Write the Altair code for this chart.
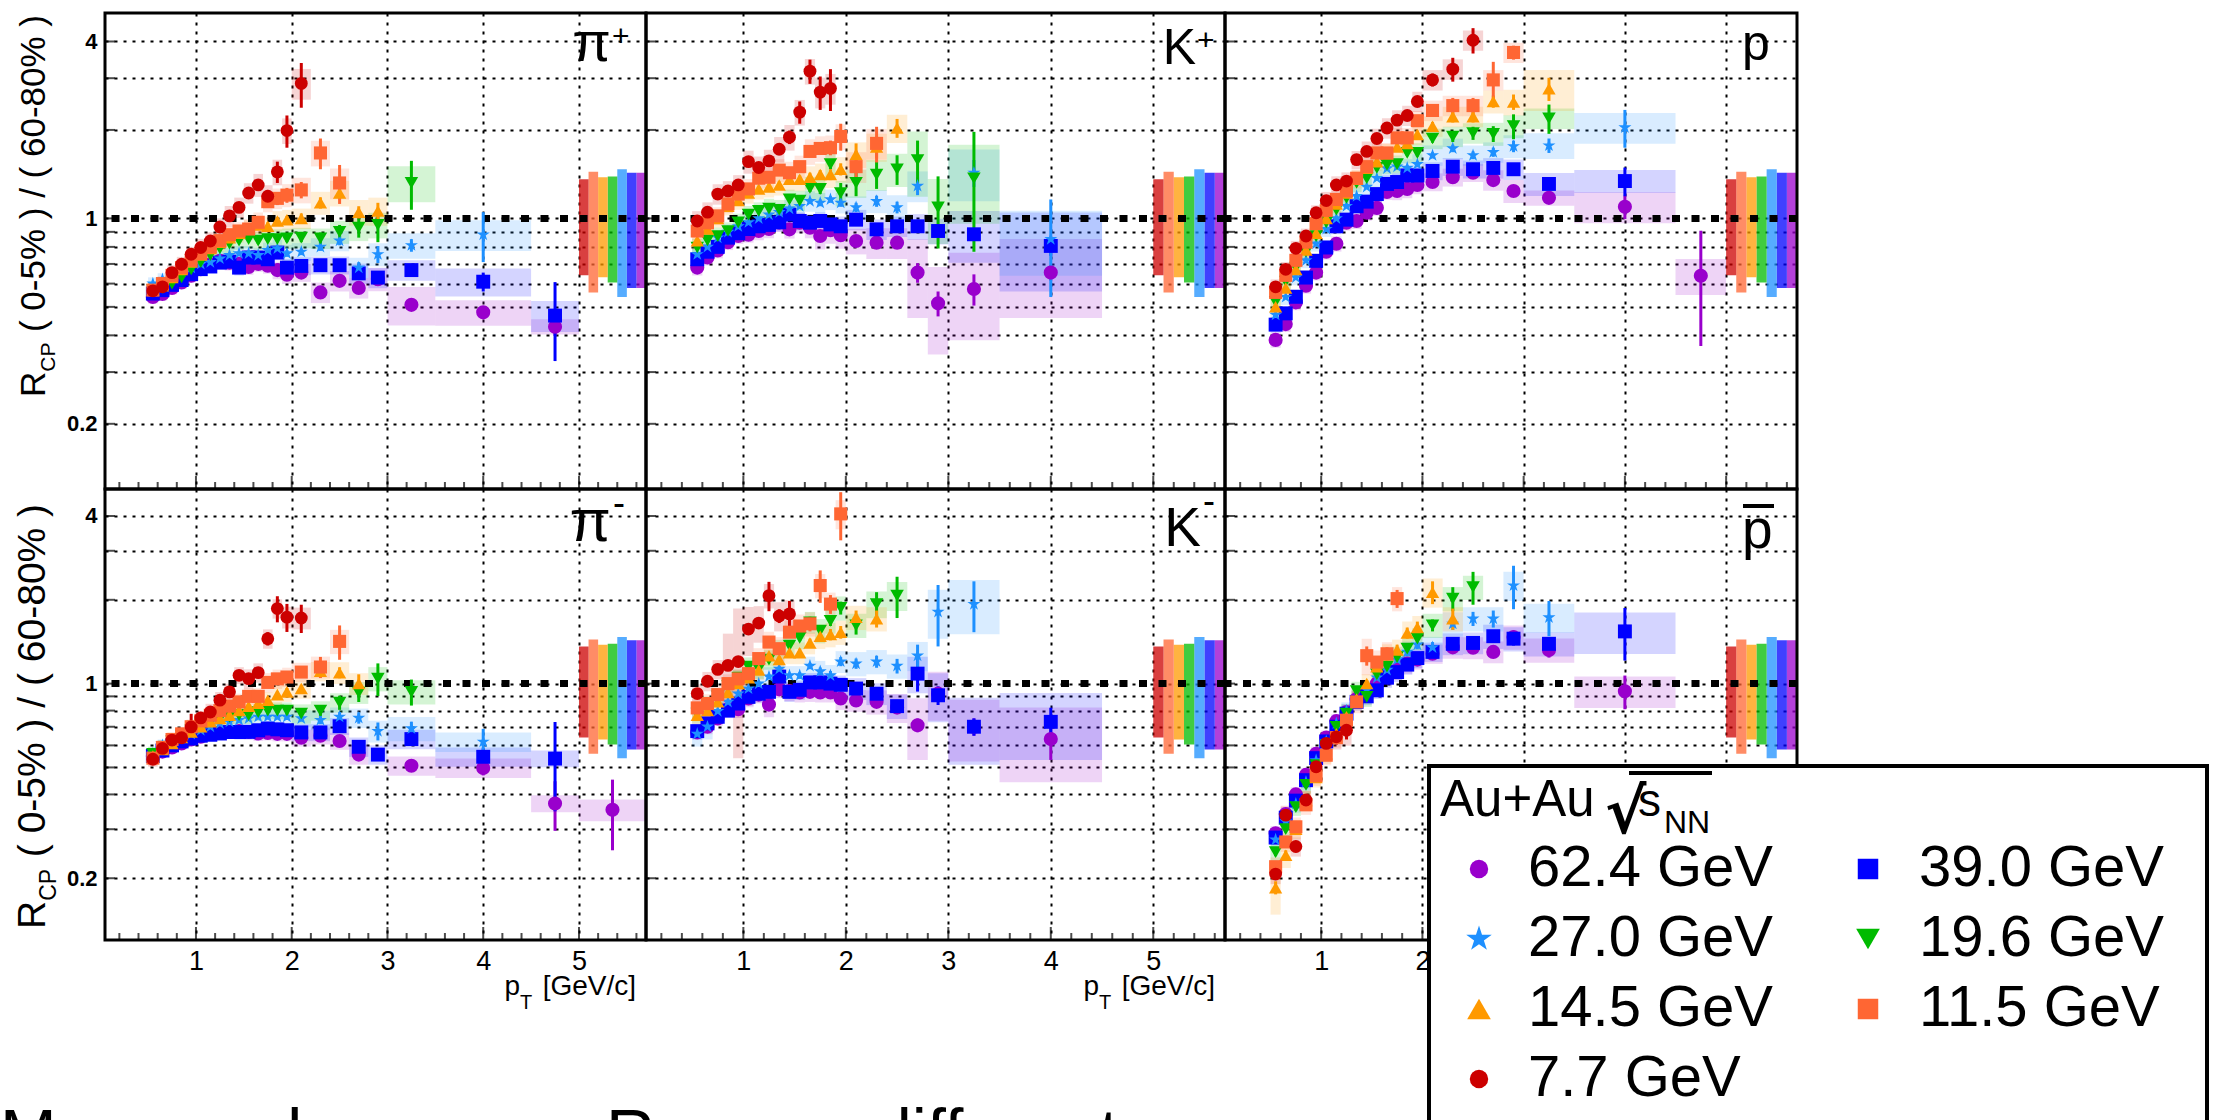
import altair as alt
import pandas as pd

FONT = "Liberation Sans"

ENERGIES = ["62.4 GeV", "39.0 GeV", "27.0 GeV", "19.6 GeV", "14.5 GeV", "11.5 GeV", "7.7 GeV"]
COLORS = ["#9900cc", "#0000ff", "#1e90ff", "#00bb00", "#ff9900", "#ff6633", "#cc0000"]
STAR = ("M0,-1L0.2245,-0.309L0.9511,-0.309L0.3633,0.118L0.5878,0.809L0,0.382"
        "L-0.5878,0.809L-0.3633,0.118L-0.9511,-0.309L-0.2245,-0.309Z")
SHAPES = ["circle", "square", STAR, "triangle-down", "triangle-up", "square", "circle"]
SIZES = [200, 165, 380, 260, 260, 165, 200]
LEG_SIZES = [340, 420, 720, 560, 560, 420, 340]

# normalisation (Ncoll) uncertainty bars, one per energy
NORM_X = [5.6, 5.5, 5.4, 5.3, 5.2, 5.1, 5.0]
NORM_LO = [0.58, 0.58, 0.54, 0.605, 0.63, 0.56, 0.64]
NORM_HI = [1.43, 1.43, 1.47, 1.39, 1.38, 1.44, 1.36]

Y_GRID = [0.2, 0.3, 0.4, 0.5, 0.6, 0.7, 0.8, 0.9, 1, 2, 3, 4]
X_GRID = [1, 2, 3, 4, 5]
X_MINOR = [0.2, 0.4, 0.6, 0.8, 1.2, 1.4, 1.6, 1.8, 2.2, 2.4, 2.6, 2.8, 3.2, 3.4, 3.6, 3.8,
           4.2, 4.4, 4.6, 4.8, 5.2, 5.4, 5.6]

# (pT, R_CP, stat error, relative syst error)
PIP_624 = [(0.55,0.54,0.005,0.05),(0.65,0.553,0.005,0.05),(0.75,0.58,0.005,0.05),(0.85,0.605,0.005,0.05),(0.95,0.638,0.006,0.05),(1.05,0.672,0.006,0.05),(1.15,0.698,0.006,0.05),(1.25,0.717,0.007,0.05),(1.35,0.707,0.008,0.06),(1.45,0.70,0.008,0.06),(1.55,0.684,0.01,0.06),(1.65,0.70,0.01,0.06),(1.75,0.69,0.01,0.06),(1.85,0.667,0.012,0.07),(1.95,0.643,0.012,0.07),(2.1,0.654,0.015,0.07),(2.3,0.56,0.015,0.08),(2.5,0.613,0.02,0.08),(2.7,0.58,0.02,0.08),(2.9,0.621,0.025,0.09),(3.25,0.508,0.02,0.15),(4.0,0.479,0.02,0.1),(4.75,0.428,0.03,0.06)]
PIP_390 = [(0.55,0.555,0.005,0.05),(0.65,0.57,0.005,0.05),(0.75,0.594,0.005,0.05),(0.85,0.617,0.006,0.05),(0.95,0.646,0.006,0.05),(1.05,0.672,0.006,0.05),(1.15,0.686,0.007,0.05),(1.25,0.707,0.008,0.05),(1.35,0.713,0.008,0.06),(1.45,0.68,0.01,0.06),(1.55,0.736,0.01,0.06),(1.65,0.736,0.01,0.06),(1.75,0.726,0.012,0.06),(1.85,0.765,0.012,0.06),(1.95,0.68,0.015,0.07),(2.1,0.689,0.015,0.07),(2.3,0.693,0.018,0.07),(2.5,0.693,0.02,0.07),(2.7,0.65,0.02,0.08),(2.9,0.629,0.025,0.08),(3.25,0.667,0.02,0.08),(4.0,0.609,0.045,0.11),(4.75,0.467,0.14,0.12)]
PIP_270 = [(0.55,0.60,0.006,0.05),(0.65,0.62,0.006,0.05),(0.75,0.64,0.006,0.05),(0.85,0.66,0.007,0.05),(0.95,0.68,0.007,0.05),(1.05,0.70,0.008,0.05),(1.15,0.71,0.008,0.06),(1.25,0.73,0.01,0.06),(1.35,0.75,0.01,0.06),(1.45,0.76,0.01,0.06),(1.55,0.76,0.012,0.06),(1.65,0.75,0.012,0.06),(1.75,0.78,0.015,0.06),(1.85,0.79,0.015,0.07),(1.95,0.76,0.02,0.07),(2.1,0.77,0.02,0.07),(2.3,0.80,0.025,0.07),(2.5,0.84,0.03,0.08),(2.7,0.68,0.03,0.08),(2.9,0.755,0.05,0.09),(3.25,0.81,0.04,0.1),(4.0,0.88,0.17,0.12)]
PIP_196 = [(0.55,0.57,0.006,0.06),(0.65,0.58,0.006,0.06),(0.75,0.60,0.007,0.06),(0.85,0.63,0.008,0.06),(0.95,0.67,0.008,0.06),(1.05,0.71,0.01,0.06),(1.15,0.75,0.01,0.06),(1.25,0.79,0.01,0.06),(1.35,0.82,0.012,0.07),(1.45,0.84,0.015,0.07),(1.55,0.85,0.015,0.07),(1.65,0.84,0.02,0.07),(1.75,0.85,0.02,0.07),(1.85,0.85,0.02,0.08),(1.95,0.855,0.025,0.08),(2.1,0.86,0.03,0.08),(2.3,0.855,0.04,0.08),(2.5,0.90,0.05,0.09),(2.7,0.93,0.07,0.1),(2.9,0.95,0.12,0.1),(3.25,1.32,0.25,0.14)]
PIP_145 = [(0.55,0.57,0.008,0.06),(0.65,0.59,0.008,0.06),(0.75,0.63,0.008,0.06),(0.85,0.67,0.01,0.06),(0.95,0.71,0.01,0.06),(1.05,0.75,0.01,0.06),(1.15,0.79,0.01,0.06),(1.25,0.83,0.012,0.07),(1.35,0.86,0.015,0.07),(1.45,0.89,0.015,0.07),(1.55,0.92,0.02,0.07),(1.65,0.95,0.02,0.07),(1.75,0.94,0.03,0.08),(1.85,0.98,0.03,0.08),(1.95,0.99,0.03,0.08),(2.1,1.00,0.04,0.08),(2.3,1.13,0.05,0.09),(2.5,1.22,0.06,0.1),(2.7,1.05,0.05,0.1),(2.9,1.06,0.07,0.11)]
PIP_115 = [(0.55,0.57,0.008,0.06),(0.65,0.60,0.008,0.06),(0.75,0.64,0.008,0.06),(0.85,0.68,0.01,0.06),(0.95,0.72,0.01,0.06),(1.05,0.76,0.01,0.06),(1.15,0.80,0.012,0.07),(1.25,0.84,0.015,0.07),(1.35,0.88,0.015,0.07),(1.45,0.906,0.02,0.07),(1.55,0.92,0.03,0.08),(1.65,0.97,0.03,0.08),(1.75,1.14,0.05,0.08),(1.85,1.17,0.06,0.08),(1.95,1.20,0.07,0.09),(2.1,1.25,0.08,0.1),(2.3,1.67,0.2,0.1),(2.5,1.32,0.2,0.12)]
PIP_77 = [(0.55,0.567,0.01,0.06),(0.65,0.585,0.01,0.06),(0.75,0.654,0.01,0.06),(0.85,0.698,0.01,0.06),(0.95,0.755,0.012,0.06),(1.05,0.796,0.012,0.07),(1.15,0.838,0.015,0.07),(1.25,0.935,0.02,0.07),(1.35,1.02,0.02,0.08),(1.45,1.09,0.03,0.08),(1.55,1.22,0.04,0.08),(1.65,1.30,0.05,0.09),(1.75,1.19,0.06,0.09),(1.85,1.44,0.12,0.1),(1.95,1.99,0.25,0.1),(2.1,2.88,0.5,0.12)]

KP_624 = [(0.55,0.68,0.01,0.06),(0.65,0.736,0.01,0.06),(0.75,0.778,0.01,0.06),(0.85,0.83,0.01,0.06),(0.95,0.871,0.01,0.06),(1.05,0.88,0.012,0.06),(1.15,0.906,0.012,0.07),(1.25,0.92,0.012,0.07),(1.35,0.967,0.015,0.07),(1.45,0.918,0.015,0.07),(1.55,0.967,0.015,0.08),(1.65,0.93,0.02,0.08),(1.75,0.871,0.02,0.1),(1.85,0.911,0.02,0.1),(1.95,0.876,0.025,0.1),(2.1,0.838,0.025,0.1),(2.3,0.827,0.03,0.12),(2.5,0.827,0.03,0.12),(2.7,0.654,0.05,0.3),(2.9,0.514,0.05,0.33),(3.25,0.575,0.07,0.33),(4.0,0.654,0.04,0.3)]
KP_390 = [(0.55,0.726,0.01,0.06),(0.65,0.77,0.01,0.06),(0.75,0.80,0.01,0.06),(0.85,0.86,0.01,0.06),(0.95,0.89,0.01,0.06),(1.05,0.92,0.012,0.06),(1.15,0.94,0.012,0.06),(1.25,0.95,0.015,0.06),(1.35,0.97,0.015,0.07),(1.45,1.03,0.015,0.07),(1.55,0.98,0.02,0.07),(1.65,0.967,0.02,0.07),(1.75,0.98,0.02,0.07),(1.85,0.954,0.02,0.07),(1.95,0.94,0.025,0.08),(2.1,0.99,0.025,0.08),(2.3,0.918,0.03,0.08),(2.5,0.94,0.03,0.08),(2.7,0.94,0.035,0.1),(2.9,0.906,0.04,0.1),(3.25,0.883,0.04,0.2),(4.0,0.806,0.06,0.3)]
KP_270 = [(0.55,0.755,0.01,0.06),(0.65,0.80,0.01,0.06),(0.75,0.86,0.01,0.06),(0.85,0.90,0.01,0.06),(0.95,0.94,0.012,0.06),(1.05,0.97,0.012,0.06),(1.15,1.00,0.015,0.07),(1.25,1.03,0.015,0.07),(1.35,1.05,0.02,0.07),(1.45,1.08,0.02,0.07),(1.55,1.10,0.02,0.07),(1.65,1.145,0.025,0.08),(1.75,1.13,0.03,0.08),(1.85,1.16,0.03,0.08),(1.95,1.13,0.035,0.08),(2.1,1.09,0.04,0.09),(2.3,1.145,0.05,0.09),(2.5,1.09,0.05,0.1),(2.7,1.29,0.09,0.12),(3.25,1.43,0.15,0.2),(4.0,0.85,0.31,0.25)]
KP_196 = [(0.55,0.796,0.01,0.07),(0.65,0.842,0.01,0.07),(0.75,0.87,0.012,0.07),(0.85,0.906,0.012,0.07),(0.95,0.97,0.015,0.07),(1.05,1.03,0.015,0.07),(1.15,1.06,0.02,0.07),(1.25,1.08,0.02,0.08),(1.35,1.07,0.025,0.08),(1.45,1.16,0.03,0.08),(1.55,1.15,0.03,0.08),(1.65,1.27,0.04,0.09),(1.75,1.26,0.05,0.09),(1.85,1.53,0.06,0.1),(1.95,1.22,0.1,0.1),(2.1,1.32,0.13,0.11),(2.3,1.41,0.15,0.12),(2.5,1.47,0.17,0.13),(2.7,1.58,0.26,0.25),(2.9,1.09,0.3,0.25),(3.25,1.37,0.6,0.3)]
KP_145 = [(0.55,0.84,0.015,0.07),(0.65,0.92,0.015,0.07),(0.75,1.00,0.02,0.07),(0.85,1.10,0.02,0.07),(0.95,1.15,0.02,0.07),(1.05,1.22,0.025,0.08),(1.15,1.26,0.03,0.08),(1.25,1.28,0.03,0.08),(1.35,1.30,0.035,0.08),(1.45,1.36,0.04,0.09),(1.55,1.36,0.04,0.09),(1.65,1.38,0.05,0.09),(1.75,1.41,0.05,0.09),(1.85,1.41,0.06,0.1),(1.95,1.47,0.07,0.1),(2.1,1.65,0.15,0.1),(2.3,1.75,0.15,0.11),(2.5,2.03,0.15,0.11)]
KP_115 = [(0.55,0.906,0.015,0.07),(0.65,0.966,0.015,0.07),(0.75,1.02,0.02,0.07),(0.85,1.12,0.02,0.07),(0.95,1.21,0.025,0.08),(1.05,1.26,0.03,0.08),(1.15,1.37,0.03,0.08),(1.25,1.38,0.04,0.08),(1.35,1.46,0.04,0.09),(1.45,1.43,0.05,0.09),(1.55,1.50,0.06,0.09),(1.65,1.69,0.07,0.1),(1.75,1.73,0.08,0.1),(1.85,1.74,0.1,0.1),(1.95,1.90,0.2,0.1),(2.1,1.50,0.2,0.12),(2.3,1.80,0.25,0.12)]
KP_77 = [(0.55,0.98,0.02,0.08),(0.65,1.05,0.02,0.08),(0.75,1.21,0.03,0.08),(0.85,1.24,0.03,0.08),(0.95,1.30,0.04,0.08),(1.05,1.56,0.05,0.09),(1.15,1.49,0.05,0.09),(1.25,1.57,0.06,0.09),(1.35,1.72,0.08,0.1),(1.45,1.89,0.1,0.1),(1.55,2.30,0.2,0.1),(1.65,3.17,0.3,0.1),(1.75,2.69,0.35,0.12),(1.85,2.77,0.45,0.12)]

PR_624 = [(0.55,0.386,0.008,0.06),(0.65,0.437,0.008,0.06),(0.75,0.518,0.008,0.06),(0.85,0.59,0.01,0.06),(0.95,0.654,0.01,0.06),(1.05,0.77,0.01,0.06),(1.15,0.82,0.01,0.06),(1.25,0.967,0.012,0.06),(1.35,0.98,0.012,0.06),(1.45,1.045,0.015,0.06),(1.55,1.086,0.015,0.06),(1.65,1.23,0.02,0.06),(1.75,1.24,0.02,0.07),(1.85,1.26,0.02,0.07),(1.95,1.30,0.025,0.07),(2.1,1.33,0.025,0.07),(2.3,1.38,0.03,0.07),(2.5,1.43,0.035,0.07),(2.7,1.35,0.04,0.08),(2.9,1.24,0.045,0.09),(3.25,1.175,0.05,0.06),(4.0,1.095,0.1,0.12),(4.75,0.638,0.27,0.14)]
PR_390 = [(0.55,0.435,0.008,0.06),(0.65,0.475,0.008,0.06),(0.75,0.541,0.008,0.06),(0.85,0.629,0.01,0.06),(0.95,0.717,0.01,0.06),(1.05,0.796,0.01,0.06),(1.15,0.94,0.012,0.06),(1.25,0.99,0.012,0.06),(1.35,1.10,0.015,0.06),(1.45,1.14,0.015,0.06),(1.55,1.21,0.02,0.06),(1.65,1.31,0.02,0.07),(1.75,1.33,0.02,0.07),(1.85,1.40,0.025,0.07),(1.95,1.40,0.025,0.07),(2.1,1.45,0.03,0.07),(2.3,1.50,0.035,0.07),(2.5,1.47,0.04,0.07),(2.7,1.485,0.045,0.08),(2.9,1.47,0.05,0.08),(3.25,1.31,0.05,0.09),(4.0,1.34,0.15,0.09)]
PR_270 = [(0.55,0.47,0.008,0.06),(0.65,0.54,0.008,0.06),(0.75,0.63,0.01,0.06),(0.85,0.72,0.01,0.06),(0.95,0.82,0.01,0.06),(1.05,0.92,0.012,0.06),(1.15,1.00,0.012,0.06),(1.25,1.10,0.015,0.06),(1.35,1.19,0.02,0.07),(1.45,1.28,0.02,0.07),(1.55,1.37,0.025,0.07),(1.65,1.48,0.03,0.07),(1.75,1.50,0.03,0.07),(1.85,1.485,0.03,0.07),(1.95,1.53,0.035,0.08),(2.1,1.64,0.04,0.08),(2.3,1.73,0.05,0.08),(2.5,1.64,0.05,0.08),(2.7,1.68,0.06,0.08),(2.9,1.76,0.08,0.09),(3.25,1.77,0.1,0.1),(4.0,2.04,0.3,0.12)]
PR_196 = [(0.55,0.52,0.008,0.06),(0.65,0.61,0.008,0.06),(0.75,0.68,0.01,0.06),(0.85,0.77,0.01,0.06),(0.95,0.87,0.012,0.06),(1.05,0.97,0.012,0.06),(1.15,1.07,0.015,0.06),(1.25,1.175,0.02,0.07),(1.35,1.32,0.02,0.07),(1.45,1.37,0.025,0.07),(1.55,1.485,0.03,0.07),(1.65,1.52,0.03,0.07),(1.75,1.53,0.035,0.07),(1.85,1.67,0.04,0.08),(1.95,1.67,0.045,0.08),(2.1,1.87,0.06,0.08),(2.3,1.90,0.08,0.08),(2.5,1.95,0.1,0.08),(2.7,1.94,0.12,0.09),(2.9,2.06,0.2,0.09),(3.25,2.19,0.25,0.08)]
PR_145 = [(0.55,0.50,0.01,0.06),(0.65,0.58,0.01,0.06),(0.75,0.67,0.012,0.06),(0.85,0.78,0.015,0.06),(0.95,0.89,0.015,0.06),(1.05,1.00,0.02,0.06),(1.15,1.12,0.02,0.07),(1.25,1.22,0.025,0.07),(1.35,1.36,0.03,0.07),(1.45,1.48,0.03,0.07),(1.55,1.56,0.035,0.07),(1.65,1.66,0.04,0.08),(1.75,1.75,0.05,0.08),(1.85,1.80,0.05,0.08),(1.95,1.93,0.06,0.08),(2.1,2.06,0.07,0.08),(2.3,2.22,0.1,0.08),(2.5,2.22,0.1,0.08),(2.7,2.50,0.12,0.09),(2.9,2.49,0.15,0.1),(3.25,2.76,0.25,0.16)]
PR_115 = [(0.55,0.56,0.01,0.06),(0.65,0.64,0.01,0.06),(0.75,0.72,0.015,0.06),(0.85,0.83,0.015,0.06),(0.95,0.96,0.02,0.06),(1.05,1.065,0.02,0.06),(1.15,1.16,0.025,0.07),(1.25,1.24,0.03,0.07),(1.35,1.37,0.03,0.07),(1.45,1.50,0.035,0.07),(1.55,1.67,0.04,0.08),(1.65,1.67,0.05,0.08),(1.75,1.88,0.06,0.08),(1.85,1.88,0.07,0.08),(1.95,2.15,0.08,0.08),(2.1,2.33,0.1,0.08),(2.3,2.42,0.15,0.08),(2.5,2.42,0.15,0.08),(2.7,2.96,0.45,0.08),(2.9,3.67,0.2,0.08)]
PR_77 = [(0.55,0.585,0.015,0.06),(0.65,0.671,0.015,0.06),(0.75,0.791,0.02,0.06),(0.85,0.871,0.02,0.06),(0.95,1.045,0.025,0.06),(1.05,1.15,0.03,0.07),(1.15,1.30,0.03,0.07),(1.25,1.34,0.04,0.07),(1.35,1.585,0.04,0.07),(1.45,1.69,0.05,0.08),(1.55,1.87,0.06,0.08),(1.65,2.03,0.06,0.08),(1.75,2.16,0.07,0.08),(1.85,2.24,0.08,0.08),(1.95,2.50,0.1,0.08),(2.1,2.96,0.15,0.08),(2.3,3.22,0.3,0.08),(2.5,4.04,0.4,0.08)]

PIM_624 = [(0.55,0.55,0.005,0.05),(0.65,0.57,0.005,0.05),(0.75,0.59,0.005,0.05),(0.85,0.61,0.005,0.05),(0.95,0.63,0.006,0.05),(1.05,0.645,0.006,0.05),(1.15,0.66,0.006,0.05),(1.25,0.665,0.007,0.05),(1.35,0.671,0.007,0.05),(1.45,0.675,0.008,0.06),(1.55,0.67,0.008,0.06),(1.65,0.662,0.01,0.06),(1.75,0.665,0.01,0.06),(1.85,0.66,0.01,0.06),(1.95,0.66,0.012,0.06),(2.1,0.639,0.012,0.07),(2.3,0.65,0.015,0.07),(2.5,0.622,0.015,0.07),(2.7,0.556,0.02,0.08),(3.25,0.507,0.02,0.08),(4.0,0.498,0.03,0.08),(4.75,0.371,0.075,0.07),(5.35,0.352,0.1,0.09)]
PIM_390 = [(0.55,0.55,0.005,0.05),(0.65,0.575,0.005,0.05),(0.75,0.60,0.005,0.05),(0.85,0.62,0.006,0.05),(0.95,0.635,0.006,0.05),(1.05,0.65,0.006,0.05),(1.15,0.655,0.007,0.05),(1.25,0.662,0.007,0.05),(1.35,0.67,0.008,0.05),(1.45,0.67,0.008,0.06),(1.55,0.671,0.01,0.06),(1.65,0.68,0.01,0.06),(1.75,0.69,0.01,0.06),(1.85,0.685,0.012,0.06),(1.95,0.68,0.012,0.06),(2.1,0.668,0.015,0.07),(2.3,0.668,0.015,0.07),(2.5,0.703,0.02,0.07),(2.7,0.593,0.02,0.08),(2.9,0.556,0.025,0.08),(3.25,0.632,0.02,0.08),(4.0,0.546,0.04,0.08),(4.75,0.538,0.19,0.07)]
PIM_270 = [(0.55,0.56,0.006,0.05),(0.65,0.60,0.006,0.05),(0.75,0.62,0.006,0.05),(0.85,0.64,0.007,0.05),(0.95,0.66,0.007,0.05),(1.05,0.68,0.008,0.06),(1.15,0.70,0.008,0.06),(1.25,0.72,0.01,0.06),(1.35,0.73,0.01,0.06),(1.45,0.74,0.01,0.06),(1.55,0.75,0.012,0.06),(1.65,0.76,0.012,0.06),(1.75,0.76,0.015,0.07),(1.85,0.76,0.015,0.07),(1.95,0.76,0.02,0.07),(2.1,0.75,0.02,0.07),(2.3,0.74,0.025,0.08),(2.5,0.76,0.03,0.08),(2.7,0.753,0.035,0.08),(2.9,0.675,0.05,0.09),(3.25,0.69,0.04,0.1),(4.0,0.618,0.07,0.08)]
PIM_196 = [(0.55,0.56,0.006,0.06),(0.65,0.59,0.006,0.06),(0.75,0.62,0.007,0.06),(0.85,0.65,0.008,0.06),(0.95,0.68,0.008,0.06),(1.05,0.71,0.01,0.06),(1.15,0.73,0.01,0.06),(1.25,0.75,0.01,0.06),(1.35,0.76,0.012,0.06),(1.45,0.77,0.012,0.07),(1.55,0.77,0.015,0.07),(1.65,0.79,0.015,0.07),(1.75,0.80,0.02,0.07),(1.85,0.80,0.02,0.07),(1.95,0.80,0.025,0.07),(2.1,0.78,0.03,0.08),(2.3,0.80,0.035,0.08),(2.5,0.855,0.05,0.08),(2.7,0.929,0.07,0.09),(2.9,1.042,0.14,0.1),(3.25,0.934,0.1,0.1)]
PIM_145 = [(0.55,0.55,0.007,0.06),(0.65,0.58,0.007,0.06),(0.75,0.61,0.008,0.06),(0.85,0.64,0.008,0.06),(0.95,0.67,0.01,0.06),(1.05,0.70,0.01,0.06),(1.15,0.73,0.01,0.06),(1.25,0.75,0.012,0.07),(1.35,0.77,0.012,0.07),(1.45,0.80,0.015,0.07),(1.55,0.83,0.015,0.07),(1.65,0.85,0.02,0.07),(1.75,0.871,0.02,0.07),(1.85,0.913,0.025,0.08),(1.95,0.934,0.03,0.08),(2.1,0.96,0.03,0.08),(2.3,1.107,0.04,0.08),(2.5,1.095,0.05,0.09),(2.7,1.0,0.08,0.09)]
PIM_115 = [(0.55,0.54,0.008,0.06),(0.65,0.59,0.008,0.06),(0.75,0.63,0.008,0.06),(0.85,0.66,0.01,0.06),(0.95,0.70,0.01,0.06),(1.05,0.735,0.01,0.06),(1.15,0.77,0.012,0.06),(1.25,0.80,0.012,0.07),(1.35,0.83,0.015,0.07),(1.45,0.86,0.015,0.07),(1.55,0.90,0.02,0.07),(1.65,0.90,0.02,0.07),(1.75,1.01,0.03,0.08),(1.85,1.04,0.03,0.08),(1.95,1.056,0.04,0.08),(2.1,1.10,0.05,0.08),(2.3,1.147,0.1,0.09),(2.5,1.418,0.2,0.1)]
PIM_77 = [(0.55,0.535,0.01,0.06),(0.65,0.585,0.01,0.06),(0.75,0.627,0.01,0.06),(0.85,0.639,0.01,0.06),(0.95,0.699,0.08,0.06),(1.05,0.753,0.015,0.06),(1.15,0.791,0.015,0.07),(1.25,0.872,0.02,0.07),(1.35,0.934,0.02,0.07),(1.45,1.071,0.025,0.07),(1.55,1.042,0.03,0.08),(1.65,1.095,0.04,0.08),(1.75,1.45,0.08,0.08),(1.85,1.86,0.2,0.08),(1.95,1.733,0.2,0.09),(2.1,1.72,0.2,0.09)]

KM_624 = [(0.55,0.668,0.01,0.06),(0.65,0.70,0.01,0.06),(0.75,0.75,0.01,0.06),(0.85,0.809,0.012,0.06),(0.95,0.809,0.012,0.07),(1.05,0.884,0.015,0.07),(1.15,0.913,0.015,0.07),(1.25,0.841,0.015,0.1),(1.35,0.954,0.02,0.07),(1.45,0.94,0.02,0.08),(1.55,0.93,0.02,0.08),(1.65,0.934,0.025,0.08),(1.75,0.93,0.025,0.08),(1.85,0.93,0.025,0.08),(1.95,0.884,0.03,0.09),(2.1,0.87,0.03,0.09),(2.3,0.86,0.035,0.1),(2.5,0.82,0.04,0.12),(2.7,0.709,0.04,0.25),(2.9,0.92,0.05,0.2),(3.25,0.70,0.05,0.25),(4.0,0.632,0.1,0.3)]
KM_390 = [(0.55,0.675,0.01,0.06),(0.65,0.72,0.01,0.06),(0.75,0.76,0.01,0.06),(0.85,0.80,0.012,0.06),(0.95,0.848,0.012,0.07),(1.05,0.896,0.015,0.07),(1.15,0.92,0.015,0.07),(1.25,0.934,0.015,0.07),(1.35,1.06,0.02,0.07),(1.45,0.934,0.02,0.08),(1.55,0.95,0.02,0.08),(1.65,1.01,0.025,0.08),(1.75,1.01,0.025,0.08),(1.85,1.0,0.03,0.08),(1.95,0.99,0.03,0.08),(2.1,0.96,0.035,0.09),(2.3,0.92,0.04,0.09),(2.5,0.83,0.04,0.1),(2.7,1.086,0.15,0.15),(2.9,0.908,0.07,0.2),(3.25,0.70,0.05,0.27),(4.0,0.729,0.09,0.27)]
KM_270 = [(0.55,0.66,0.01,0.1),(0.65,0.70,0.01,0.1),(0.75,0.796,0.012,0.08),(0.85,0.86,0.012,0.07),(0.95,0.92,0.015,0.07),(1.05,0.96,0.015,0.07),(1.15,1.0,0.02,0.07),(1.25,1.06,0.02,0.08),(1.35,1.13,0.025,0.08),(1.45,1.07,0.025,0.08),(1.55,1.07,0.03,0.08),(1.65,1.157,0.03,0.08),(1.75,1.107,0.035,0.09),(1.85,1.07,0.04,0.09),(1.95,1.20,0.045,0.09),(2.1,1.18,0.05,0.1),(2.3,1.20,0.06,0.1),(2.5,1.157,0.07,0.1),(2.7,1.26,0.12,0.12),(2.9,1.81,0.45,0.2),(3.25,1.93,0.4,0.22)]
KM_196 = [(0.55,0.78,0.01,0.07),(0.65,0.84,0.01,0.07),(0.75,0.90,0.012,0.07),(0.85,0.98,0.015,0.07),(0.95,1.05,0.015,0.07),(1.05,1.15,0.02,0.08),(1.15,1.13,0.02,0.08),(1.25,1.22,0.025,0.08),(1.35,1.33,0.03,0.08),(1.45,1.37,0.035,0.09),(1.55,1.46,0.04,0.09),(1.65,1.66,0.05,0.09),(1.75,1.55,0.06,0.1),(1.85,1.68,0.07,0.1),(1.95,1.87,0.1,0.1),(2.1,1.62,0.12,0.1),(2.3,1.93,0.2,0.11),(2.5,2.07,0.35,0.12)]
KM_145 = [(0.55,0.77,0.012,0.07),(0.65,0.80,0.012,0.07),(0.75,0.86,0.015,0.07),(0.85,0.93,0.015,0.07),(0.95,1.0,0.02,0.08),(1.05,1.05,0.02,0.08),(1.15,1.12,0.025,0.08),(1.25,1.26,0.03,0.08),(1.35,1.22,0.035,0.08),(1.45,1.29,0.04,0.09),(1.55,1.29,0.045,0.09),(1.65,1.40,0.05,0.09),(1.75,1.48,0.06,0.1),(1.85,1.50,0.07,0.1),(1.95,1.53,0.08,0.1),(2.1,1.73,0.1,0.1),(2.3,1.71,0.12,0.1)]
KM_115 = [(0.55,0.818,0.015,0.08),(0.65,0.848,0.015,0.08),(0.75,0.913,0.02,0.08),(0.85,1.0,0.02,0.08),(0.95,1.04,0.025,0.08),(1.05,1.086,0.03,0.09),(1.15,1.23,0.04,0.09),(1.25,1.41,0.05,0.09),(1.35,1.335,0.05,0.1),(1.45,1.53,0.06,0.1),(1.55,1.61,0.07,0.1),(1.65,1.64,0.1,0.1),(1.75,2.25,0.3,0.1),(1.85,1.93,0.15,0.1),(1.95,4.07,0.8,0.12)]
KM_77 = [(0.55,0.921,0.02,0.08),(0.65,1.02,0.02,0.08),(0.75,1.125,0.03,0.08),(0.85,1.163,0.03,0.3),(0.95,1.20,0.04,0.55),(1.05,1.57,0.05,0.2),(1.15,1.65,0.06,0.15),(1.25,2.07,0.25,0.1),(1.35,1.75,0.1,0.12),(1.45,1.78,0.2,0.12)]

PB_624 = [(0.55,0.29,0.008,0.06),(0.65,0.34,0.008,0.06),(0.75,0.40,0.01,0.06),(0.85,0.47,0.01,0.06),(0.95,0.56,0.012,0.06),(1.05,0.64,0.015,0.06),(1.15,0.733,0.015,0.06),(1.25,0.79,0.02,0.07),(1.35,0.88,0.02,0.07),(1.45,0.93,0.025,0.07),(1.55,1.0,0.025,0.07),(1.65,1.07,0.03,0.08),(1.75,1.12,0.03,0.08),(1.85,1.18,0.035,0.08),(1.95,1.22,0.04,0.08),(2.1,1.28,0.045,0.08),(2.3,1.35,0.05,0.09),(2.5,1.345,0.05,0.09),(2.7,1.30,0.06,0.09),(2.9,1.47,0.08,0.1),(3.25,1.32,0.08,0.1),(4.0,0.939,0.13,0.13)]
PB_390 = [(0.55,0.28,0.008,0.06),(0.65,0.33,0.008,0.06),(0.75,0.38,0.01,0.06),(0.85,0.45,0.01,0.06),(0.95,0.54,0.012,0.06),(1.05,0.62,0.015,0.06),(1.15,0.70,0.015,0.07),(1.25,0.78,0.02,0.07),(1.35,0.86,0.02,0.07),(1.45,0.90,0.025,0.07),(1.55,0.946,0.025,0.07),(1.65,1.05,0.03,0.08),(1.75,1.10,0.03,0.08),(1.85,1.17,0.035,0.08),(1.95,1.235,0.04,0.08),(2.1,1.30,0.045,0.08),(2.3,1.39,0.05,0.09),(2.5,1.40,0.06,0.09),(2.7,1.48,0.07,0.1),(2.9,1.45,0.08,0.1),(3.25,1.39,0.08,0.1),(4.0,1.54,0.33,0.17)]
PB_270 = [(0.55,0.275,0.008,0.07),(0.65,0.32,0.008,0.07),(0.75,0.37,0.01,0.07),(0.85,0.444,0.012,0.07),(0.95,0.53,0.015,0.07),(1.05,0.62,0.015,0.07),(1.15,0.72,0.02,0.07),(1.25,0.80,0.02,0.07),(1.35,0.88,0.025,0.08),(1.45,0.95,0.03,0.08),(1.55,1.05,0.03,0.08),(1.65,1.12,0.035,0.08),(1.75,1.22,0.04,0.08),(1.85,1.30,0.045,0.09),(1.95,1.38,0.05,0.09),(2.1,1.35,0.06,0.09),(2.3,1.64,0.08,0.1),(2.5,1.71,0.1,0.1),(2.7,1.71,0.12,0.1),(2.9,2.25,0.4,0.12),(3.25,1.73,0.25,0.12)]
PB_196 = [(0.55,0.248,0.008,0.07),(0.65,0.30,0.008,0.07),(0.75,0.36,0.01,0.07),(0.85,0.433,0.012,0.07),(0.95,0.51,0.015,0.07),(1.05,0.60,0.015,0.07),(1.15,0.70,0.02,0.07),(1.25,0.78,0.02,0.08),(1.35,0.94,0.025,0.08),(1.45,0.896,0.03,0.08),(1.55,1.08,0.035,0.08),(1.65,1.15,0.04,0.08),(1.75,1.245,0.05,0.09),(1.85,1.335,0.05,0.09),(1.95,1.45,0.06,0.09),(2.1,1.62,0.08,0.1),(2.3,2.02,0.2,0.1),(2.5,2.22,0.3,0.1)]
PB_145 = [(0.55,0.185,0.01,0.2),(0.65,0.242,0.01,0.1),(0.75,0.30,0.01,0.08),(0.85,0.38,0.012,0.08),(0.95,0.46,0.015,0.08),(1.05,0.56,0.02,0.08),(1.15,0.66,0.02,0.08),(1.25,0.76,0.025,0.08),(1.35,0.88,0.03,0.08),(1.45,1.0,0.03,0.08),(1.55,1.15,0.04,0.09),(1.65,1.27,0.05,0.09),(1.75,1.32,0.06,0.09),(1.85,1.52,0.07,0.1),(1.95,1.59,0.08,0.1),(2.1,2.13,0.2,0.12),(2.3,1.71,0.15,0.1)]
PB_115 = [(0.55,0.22,0.008,0.08),(0.65,0.27,0.008,0.08),(0.75,0.306,0.01,0.08),(0.85,0.367,0.012,0.08),(0.95,0.467,0.015,0.08),(1.05,0.553,0.02,0.08),(1.15,0.64,0.02,0.08),(1.25,0.739,0.03,0.08),(1.35,0.86,0.03,0.09),(1.45,1.26,0.1,0.15),(1.55,1.195,0.06,0.1),(1.65,1.28,0.07,0.1),(1.75,2.02,0.15,0.1)]
PB_77 = [(0.55,0.207,0.01,0.08),(0.65,0.337,0.015,0.08),(0.75,0.26,0.012,0.08),(0.85,0.382,0.015,0.08),(0.95,0.503,0.02,0.08),(1.05,0.61,0.025,0.08),(1.15,0.644,0.04,0.1),(1.25,0.68,0.05,0.12)]

SERIES = {
    "pip": [PIP_624, PIP_390, PIP_270, PIP_196, PIP_145, PIP_115, PIP_77],
    "kp": [KP_624, KP_390, KP_270, KP_196, KP_145, KP_115, KP_77],
    "p": [PR_624, PR_390, PR_270, PR_196, PR_145, PR_115, PR_77],
    "pim": [PIM_624, PIM_390, PIM_270, PIM_196, PIM_145, PIM_115, PIM_77],
    "km": [KM_624, KM_390, KM_270, KM_196, KM_145, KM_115, KM_77],
    "pbar": [PB_624, PB_390, PB_270, PB_196, PB_145, PB_115, PB_77],
}

COL_W = [541, 579, 572]
ROW_H = [476, 451]


def half_width(pt):
    if pt < 2.0:
        return 0.05
    if pt < 3.0:
        return 0.1
    if pt < 3.5:
        return 0.25
    if pt < 4.5:
        return 0.5
    if pt < 5.0:
        return 0.25
    return 0.35


def build_df(series):
    rows = []
    for k, pts in enumerate(series):
        for pt, r, st, sy in pts:
            hw = half_width(pt)
            rows.append(dict(energy=ENERGIES[k], k=k, pt=pt, r=r,
                             elo=max(r - st, 0.05), ehi=r + st,
                             xlo=pt - hw, xhi=pt + hw,
                             ylo=r * (1 - sy), yhi=r * (1 + sy)))
    return pd.DataFrame(rows)


NORM_DF = pd.DataFrame(dict(energy=ENERGIES, x=NORM_X, x2=[v + 0.1 for v in NORM_X],
                            lo=NORM_LO, hi=NORM_HI))


def one(s):
    return alt.Chart(pd.DataFrame({"s": [s]}))


def txt(s, x, y, size, align="left", baseline="alphabetic", angle=0, weight="normal", font=FONT):
    return one(s).mark_text(align=align, baseline=baseline, angle=angle, fontSize=size,
                            fontWeight=weight, font=font, color="black").encode(
        text="s:N", x=alt.value(x), y=alt.value(y))


def panel(key, row, col, labels):
    w, h = COL_W[col], ROW_H[row]
    df = build_df(SERIES[key])
    xs = alt.Scale(domain=[0.05, 5.7], nice=False, zero=False)
    ys = alt.Scale(type="log", domain=[0.12, 5.0], nice=False)
    if key == "pbar":
        xlab = "datum.value <= 2 ? datum.label : ''"
    else:
        xlab = "datum.label"
    xaxis = alt.Axis(values=X_GRID, grid=True, gridColor="black", gridDash=[3, 6], gridWidth=2,
                     gridOpacity=1, ticks=False, domain=False, labels=(row == 1),
                     labelExpr=xlab,
                     labelFontSize=27, labelFont=FONT, labelColor="black", labelPadding=8,
                     labelOverlap=False, title="")
    yaxis = alt.Axis(values=Y_GRID, grid=True, gridColor="black", gridDash=[3, 6], gridWidth=2,
                     gridOpacity=1, ticks=False, domain=False, labels=(col == 0),
                     labelExpr="datum.value == 0.2 ? '0.2' : (datum.value == 1 ? '1' : (datum.value == 4 ? '4' : ''))",
                     labelFontSize=22, labelFont=FONT, labelFontWeight="bold", labelColor="black",
                     labelPadding=8, labelOverlap=False, title="")
    cscale = alt.Scale(domain=ENERGIES, range=COLORS)
    color = alt.Color("energy:N", scale=cscale, legend=None)

    layers = []
    layers.append(alt.Chart(df).mark_rect(clip=True, opacity=0.17).encode(
        x=alt.X("xlo:Q", scale=xs, axis=xaxis), x2="xhi:Q",
        y=alt.Y("ylo:Q", scale=ys, axis=yaxis), y2="yhi:Q", color=color))
    layers.append(alt.Chart(NORM_DF).mark_rect(clip=True, opacity=0.75).encode(
        x=alt.X("x:Q", scale=xs, axis=xaxis), x2="x2:Q",
        y=alt.Y("lo:Q", scale=ys, axis=yaxis), y2="hi:Q", color=color))
    layers.append(alt.Chart(pd.DataFrame({"v": [1.0]})).mark_rule(
        color="black", strokeWidth=7, strokeDash=[8, 11.5]).encode(
        y=alt.Y("v:Q", scale=ys, axis=yaxis)))
    layers.append(alt.Chart(df).mark_rule(clip=True, strokeWidth=3).encode(
        x=alt.X("pt:Q", scale=xs, axis=xaxis),
        y=alt.Y("elo:Q", scale=ys, axis=yaxis), y2="ehi:Q", color=color))
    layers.append(alt.Chart(df).mark_point(filled=True, opacity=1, clip=True).encode(
        x=alt.X("pt:Q", scale=xs, axis=xaxis),
        y=alt.Y("r:Q", scale=ys, axis=yaxis), color=color,
        shape=alt.Shape("energy:N", scale=alt.Scale(domain=ENERGIES, range=SHAPES), legend=None),
        size=alt.Size("energy:N", scale=alt.Scale(domain=ENERGIES, range=SIZES), legend=None)))
    # axis ticks drawn inside the frame
    layers.append(alt.Chart(pd.DataFrame({"t": X_MINOR})).mark_tick(
        clip=True, color="black", thickness=2, size=14).encode(
        x=alt.X("t:Q", scale=xs, axis=xaxis), y=alt.value(h)))
    layers.append(alt.Chart(pd.DataFrame({"t": X_GRID})).mark_tick(
        clip=True, color="black", thickness=2, size=26).encode(
        x=alt.X("t:Q", scale=xs, axis=xaxis), y=alt.value(h)))
    layers.append(alt.Chart(pd.DataFrame({"t": Y_GRID})).mark_tick(
        clip=True, color="black", thickness=2, size=20).encode(
        y=alt.Y("t:Q", scale=ys, axis=yaxis), x=alt.value(0)))
    # frame
    layers.append(one("frame").mark_rect(fillOpacity=0, stroke="black", strokeWidth=3).encode(
        x=alt.value(0), x2=alt.value(w), y=alt.value(0), y2=alt.value(h)))
    # particle label
    for (s, size, x, y, align, base) in labels:
        layers.append(txt(s, x, y, size, align=align, baseline=base))
    if key == "pbar":
        layers.append(one("bar").mark_rule(color="black", strokeWidth=4).encode(
            x=alt.value(518), x2=alt.value(549), y=alt.value(17)))

    # y-axis title
    if col == 0:
        if row == 0:
            fs, fsub, yb = 35, 21, 384
        else:
            fs, fsub, yb = 39, 23, 440
        xb = -60
        wr = 0.722 * fs
        wcp = 1.389 * fsub
        wsp = 0.3 * fs
        layers.append(txt("R", xb, yb, fs, angle=270))
        layers.append(txt("CP", xb + 0.28 * fs, yb - wr, fsub, angle=270))
        layers.append(txt("( 0-5% ) / ( 60-80% )", xb, yb - wr - wcp - wsp, fs, angle=270))
    # x-axis title (hidden under the legend in the last panel)
    if row == 1 and key != "pbar":
        layers.append(txt("[GeV/c]", w - 10, h + 55, 28, align="right"))
        layers.append(txt("T", w - 126, h + 69, 20))
        layers.append(txt("p", w - 126, h + 55, 28, align="right"))
    # cut-off slide caption below the figure
    if row == 1 and col == 0:
        yb = 668
        layers.append(txt("Measured", -105, yb, 68))
        layers.append(txt("R", 501, yb, 68))
        layers.append(txt("CP", 550, yb + 14, 42))
        layers.append(txt("vs", 625, yb, 68))
        layers.append(txt("different", 769, yb, 68))
        layers.append(txt("Beam", 1369, yb, 68))
        layers.append(txt("energies", 1566, yb, 68))
    # legend box drawn over the bottom-right panel
    if key == "pbar":
        layers.append(one("box").mark_rect(fill="white", stroke="black", strokeWidth=4).encode(
            x=alt.value(204), x2=alt.value(982), y=alt.value(277), y2=alt.value(700)))
        layers.append(txt("Au+Au", 215, 327, 51))
        layers.append(txt("\u221a", 380, 344, 62, font="DejaVu Sans", weight="bold"))
        layers.append(one("ol").mark_rule(color="black", strokeWidth=4).encode(
            x=alt.value(404), x2=alt.value(487), y=alt.value(284)))
        layers.append(txt("s", 413, 327, 46))
        layers.append(txt("NN", 439, 344, 32))
        mx = [254, 643]
        tx = [303, 694]
        ry = [380, 450, 520, 590]
        for i, e in enumerate(ENERGIES):
            c, r_ = i % 2, i // 2
            layers.append(one(e).mark_point(filled=True, opacity=1, shape=SHAPES[i],
                                            size=LEG_SIZES[i], color=COLORS[i]).encode(
                x=alt.value(mx[c]), y=alt.value(ry[r_])))
            layers.append(txt(e, tx[c], ry[r_], 58, baseline="middle"))

    return alt.layer(*layers).properties(width=w, height=h)


LABELS = {
    "pip": [("\u03c0", 56, 506, 48, "right", "alphabetic"), ("+", 30, 507, 24, "left", "middle")],
    "kp": [("K", 50, 550, 51, "right", "alphabetic"), ("+", 30, 551, 28, "left", "middle")],
    "p": [("p", 50, 517, 47, "left", "alphabetic")],
    "pim": [("\u03c0", 60, 506, 52, "right", "alphabetic"), ("-", 36, 508, 15, "left", "middle")],
    "km": [("K", 55, 555, 57, "right", "alphabetic"), ("-", 36, 557, 13, "left", "middle")],
    "pbar": [("p", 55, 517, 59, "left", "alphabetic")],
}

ORDER = [("pip", 0, 0), ("kp", 0, 1), ("p", 0, 2), ("pim", 1, 0), ("km", 1, 1), ("pbar", 1, 2)]

chart = alt.concat(*[panel(k, r, c, LABELS[k]) for k, r, c in ORDER],
                   columns=3, spacing=0, bounds="flush").properties(
    padding={"left": 0, "top": 11, "right": 0, "bottom": 0},
    background="white",
).configure_view(strokeWidth=0)

chart.save("out.html", embed_options={"renderer": "svg", "actions": False})
